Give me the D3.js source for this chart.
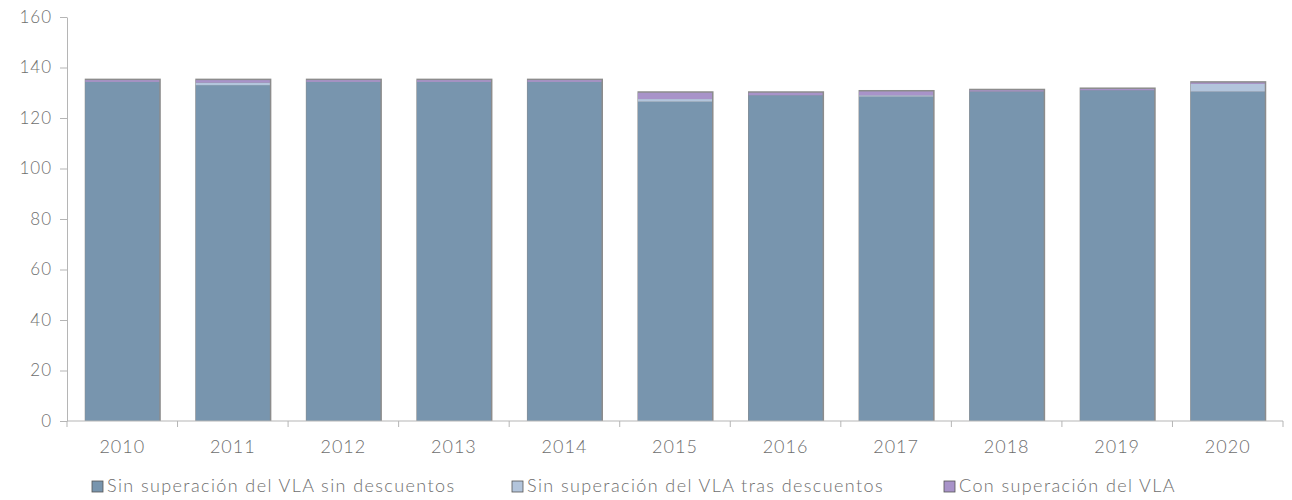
<!DOCTYPE html>
<html>
<head>
<meta charset="utf-8">
<script src="https://cdn.jsdelivr.net/npm/d3@7"></script>
<style>
  body { margin: 0; background: #fff; }
  .axis text { font-family: Lato, sans-serif; font-weight: 300; fill: #6e6e6e; letter-spacing: 1px; }
  .axis path, .axis line { stroke: #b5b5b5; }
</style>
</head>
<body>
<div class="chart"></div>
<script>
var years = ["2010", "2011", "2012", "2013", "2014", "2015", "2016", "2017", "2018", "2019", "2020"];
var sinSinDesc = [134.3, 133, 134.3, 134.3, 134.3, 126.5, 129, 128.5, 130.5, 131, 130.5];
var sinTrasDesc = [0, 1, 0, 0, 0, 1, 0, 0.5, 0, 0, 3];
var conSuperacion = [0.7, 1, 0.7, 0.7, 0.7, 2.5, 1, 1.5, 0.5, 0.5, 0.5];
var yTicks = [0, 20, 40, 60, 80, 100, 120, 140, 160];
var seriesNames = ["Sin superación del VLA sin descuentos", "Sin superación del VLA tras descuentos", "Con superación del VLA"];
var seriesColors = ["#7895ae", "#b3c5dc", "#a893c9"];

var svg_width = 1292, svg_height = 500;
var plotLeft = 67, plotRight = 1283, plotTop = 17, plotBottom = 421;

var data = years.map(function (y, i) {
    return { year: y, s0: sinSinDesc[i], s1: sinTrasDesc[i], s2: conSuperacion[i] };
});

var svg = d3.select(".chart")
    .append("svg")
    .attr("width", svg_width)
    .attr("height", svg_height);

var xScale = d3.scaleBand()
    .domain(years)
    .range([plotLeft, plotRight])
    .paddingInner(0.33)
    .paddingOuter(0.165);

var yScale = d3.scaleLinear()
    .domain([0, 160])
    .range([plotBottom, plotTop]);

var stack = d3.stack().keys(["s0", "s1", "s2"])(data);

// grey edge behind each stack
svg.append("g").selectAll("rect")
    .data(data)
    .enter()
    .append("rect")
    .attr("x", function (d) { return xScale(d.year) - 0.5; })
    .attr("y", function (d) { return yScale(d.s0 + d.s1 + d.s2) - 1.5; })
    .attr("width", xScale.bandwidth() + 2)
    .attr("height", function (d) { return plotBottom - yScale(d.s0 + d.s1 + d.s2) + 1.5; })
    .attr("fill", "#8c8c8c");

svg.append("g").selectAll("g")
    .data(stack)
    .enter()
    .append("g")
    .attr("fill", function (d, i) { return seriesColors[i]; })
    .selectAll("rect")
    .data(function (d) { return d; })
    .enter()
    .append("rect")
    .attr("x", function (d) { return xScale(d.data.year); })
    .attr("y", function (d) { return yScale(d[1]); })
    .attr("width", xScale.bandwidth())
    .attr("height", function (d) { return yScale(d[0]) - yScale(d[1]); });

// y axis
var yAxis = svg.append("g")
    .attr("class", "axis")
    .attr("transform", "translate(" + plotLeft + ",0)")
    .call(d3.axisLeft(yScale).tickValues(yTicks).tickSize(7).tickSizeOuter(0).tickPadding(8));
yAxis.selectAll("text").attr("font-size", "17px");

// x axis: line with ticks at category boundaries
var xAxis = svg.append("g")
    .attr("class", "axis")
    .attr("transform", "translate(0," + plotBottom + ")");
xAxis.append("line")
    .attr("x1", plotLeft).attr("x2", plotRight)
    .attr("y1", 0).attr("y2", 0);
xAxis.selectAll(".bound")
    .data(d3.range(years.length + 1))
    .enter()
    .append("line")
    .attr("x1", function (i) { return plotLeft + i * (plotRight - plotLeft) / years.length; })
    .attr("x2", function (i) { return plotLeft + i * (plotRight - plotLeft) / years.length; })
    .attr("y1", 0).attr("y2", 6);
xAxis.selectAll("text")
    .data(years)
    .enter()
    .append("text")
    .attr("x", function (d) { return xScale(d) + xScale.bandwidth() / 2; })
    .attr("y", 32)
    .attr("text-anchor", "middle")
    .attr("font-size", "18px")
    .text(function (d) { return d; });

// legend
var legendX = [92, 512, 944];
var legend = svg.append("g");
seriesNames.forEach(function (name, i) {
    legend.append("rect")
        .attr("x", legendX[i])
        .attr("y", 481)
        .attr("width", 11)
        .attr("height", 11)
        .attr("fill", seriesColors[i])
        .attr("stroke", "#555")
        .attr("stroke-width", 0.8);
    legend.append("text")
        .attr("x", legendX[i] + 15)
        .attr("y", 492)
        .attr("font-family", "Lato, sans-serif")
        .attr("font-weight", 300)
        .attr("font-size", "18px")
        .attr("letter-spacing", "1.4px")
        .attr("fill", "#6e6e6e")
        .text(name);
});
</script>
</body>
</html>
